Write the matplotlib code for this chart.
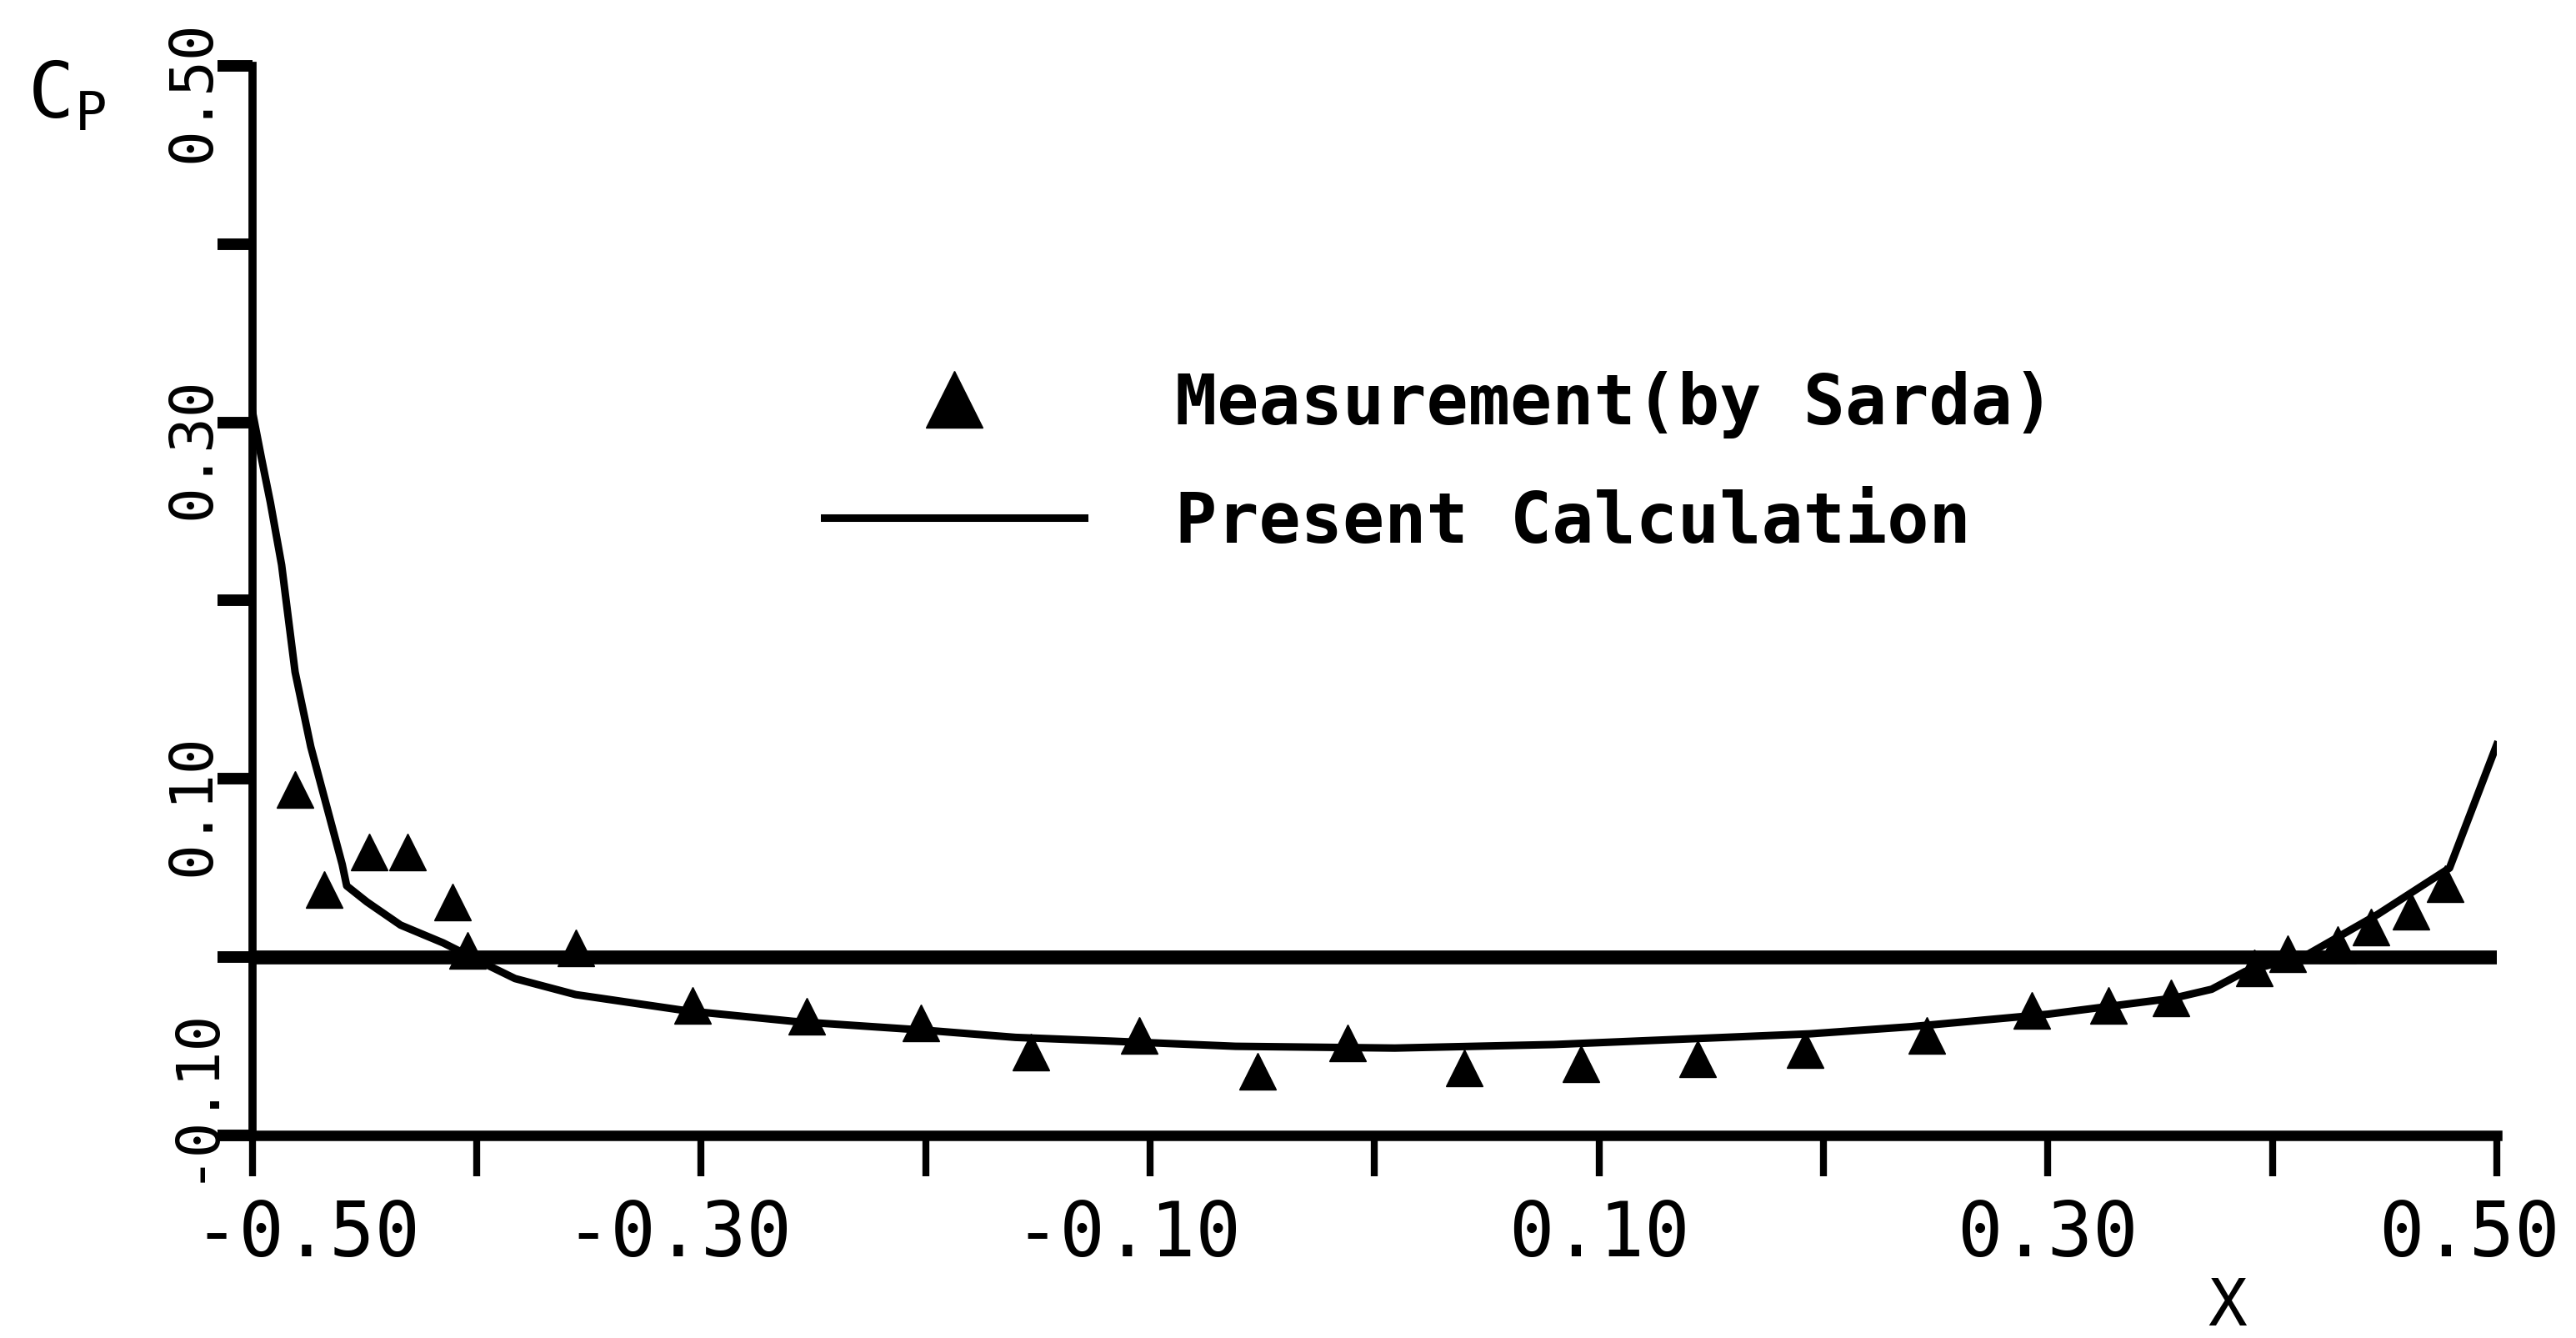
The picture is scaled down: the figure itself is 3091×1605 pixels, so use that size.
import matplotlib
matplotlib.use('Agg')
import matplotlib.pyplot as plt
import matplotlib.transforms as mtransforms

# Measured pressure coefficient (by Sarda)
meas_x = [-0.481, -0.468, -0.448, -0.431, -0.411, -0.404, -0.356, -0.304,
          -0.253, -0.202, -0.153, -0.105, -0.052, -0.012, 0.040, 0.092,
          0.144, 0.192, 0.246, 0.293, 0.327, 0.355, 0.392, 0.407,
          0.429, 0.444, 0.462, 0.477]
meas_cp = [0.094, 0.038, 0.059, 0.059, 0.031, 0.004, 0.005, -0.027,
           -0.033, -0.037, -0.053, -0.044, -0.064, -0.048, -0.062, -0.060,
           -0.057, -0.052, -0.044, -0.030, -0.027, -0.023, -0.006, 0.002,
           0.007, 0.017, 0.026, 0.041]

# Present calculation
calc_x = [-0.500, -0.496, -0.492, -0.487, -0.481, -0.474, -0.467, -0.460,
          -0.458, -0.449, -0.434, -0.415, -0.396, -0.383, -0.356, -0.307,
          -0.259, -0.200, -0.160, -0.119, -0.062, 0.009, 0.080, 0.137,
          0.194, 0.239, 0.300, 0.356, 0.373, 0.388, 0.415, 0.447, 0.479,
          0.500]
calc_cp = [0.306, 0.280, 0.255, 0.220, 0.160, 0.118, 0.085, 0.052,
           0.040, 0.031, 0.018, 0.008, -0.004, -0.012, -0.021, -0.030,
           -0.036, -0.041, -0.045, -0.047, -0.050, -0.051, -0.049, -0.046,
           -0.043, -0.039, -0.032, -0.023, -0.018, -0.008, 0.001, 0.024,
           0.050, 0.119]

x_ticks = [-0.5, -0.4, -0.3, -0.2, -0.1, 0.0, 0.1, 0.2, 0.3, 0.4, 0.5]
x_tick_labels = ['-0.50', '', '-0.30', '', '-0.10', '', '0.10', '', '0.30', '', '0.50']
y_ticks = [-0.1, 0.0, 0.1, 0.2, 0.3, 0.4, 0.5]
y_tick_labels = ['-0.10', '', '0.10', '', '0.30', '', '0.50']

# small nudges of the printed labels (pixels), as in the original plot
x_label_shift = [65, 0, -27, 0, -27, 0, 0, 0, 0, 0, -33]
y_label_shift = [52, 0, -30, 0, -30, 0, -30]

mono = 'DejaVu Sans Mono'

fig = plt.figure(figsize=(30.91, 16.06), dpi=100)
ax = fig.add_axes([0.0980, 0.1513, 0.8712, 0.7989])

ax.plot(calc_x, calc_cp, color='black', lw=6.5, label='Present Calculation', zorder=3)
ax.plot(meas_x, meas_cp, linestyle='none', marker='^', ms=31, color='black',
        label='Measurement(by Sarda)', zorder=4)
ax.axhline(0, color='black', lw=12, zorder=2)

ax.set_xlim(-0.5, 0.5)
ax.set_ylim(-0.1, 0.5)

ax.spines['top'].set_visible(False)
ax.spines['right'].set_visible(False)
ax.spines['left'].set_linewidth(7)
ax.spines['bottom'].set_linewidth(9)

ax.set_xticks(x_ticks)
ax.set_xticklabels(x_tick_labels, family=mono, fontsize=65)
ax.set_yticks(y_ticks)
ax.set_yticklabels(y_tick_labels, family=mono, fontsize=51, rotation=90, va='center')
ax.tick_params(axis='x', direction='out', length=35, width=6, pad=19)
ax.tick_params(axis='y', direction='out', length=30, width=10, pad=-4)

for lab, dx in zip(ax.get_xticklabels(), x_label_shift):
    lab.set_transform(lab.get_transform() +
                      mtransforms.ScaledTranslation(dx / 100, 0, fig.dpi_scale_trans))
for lab, dy in zip(ax.get_yticklabels(), y_label_shift):
    lab.set_transform(lab.get_transform() +
                      mtransforms.ScaledTranslation(0, dy / 100, fig.dpi_scale_trans))

# axis titles
ax.set_xlabel('X', family=mono, fontsize=56)
ax.xaxis.set_label_coords(0.880, -0.130)
fig.text(0.0107, 0.912, r'C$_\mathregular{P}$', family=mono, fontsize=66,
         ha='left', va='baseline')

# legend placed inside the plot area
handles, labels = ax.get_legend_handles_labels()
ax.legend(handles[::-1], labels[::-1], loc='upper left', bbox_to_anchor=(0.2547, 0.7155),
          frameon=False, borderpad=0, borderaxespad=0, handlelength=3.75,
          handletextpad=1.3, labelspacing=0.73, numpoints=1, markerscale=1.6,
          prop={'family': mono, 'size': 60, 'weight': 'bold'})

fig.savefig('out.png', dpi=100, facecolor='white')
